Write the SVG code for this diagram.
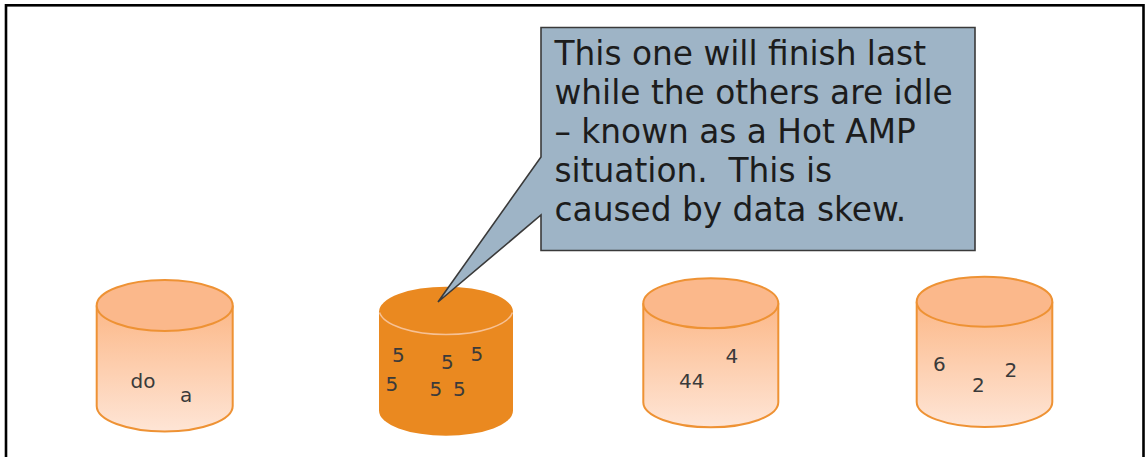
<svg xmlns="http://www.w3.org/2000/svg" width="1147" height="457" viewBox="0 0 1147 457">
<defs>
<linearGradient id="lg" x1="0" y1="0" x2="0" y2="1">
<stop offset="0" stop-color="#FCB888"/>
<stop offset="1" stop-color="#FEE5D6"/>
</linearGradient>
<style>
.cyl{fill:url(#lg);stroke:#EE9234;stroke-width:2}
.top{fill:#FBB88B;stroke:#EE9234;stroke-width:2}
.hot{fill:#EA8920;stroke:none}
.rim{fill:none;stroke:#F6C195;stroke-width:1.5}
.d{font-family:"DejaVu Sans",Verdana,sans-serif;font-size:20px;fill:#3a3a3a}
.c{font-family:"DejaVu Sans",Verdana,sans-serif;font-size:32.8px;fill:#1c1c1c}
</style>
</defs>
<rect x="0" y="0" width="1147" height="457" fill="#ffffff"/>
<rect x="6" y="5.3" width="1137.5" height="470" fill="none" stroke="#000" stroke-width="2.6"/>

<g id="amp1">
<path class="cyl" d="M96.7,305.5 V406 A68,25.5 0 0 0 232.7,406 V305.5"/>
<ellipse class="top" cx="164.7" cy="305.5" rx="68" ry="25.5"/>
<text class="d" x="130.5" y="388">do</text>
<text class="d" x="180" y="402">a</text>
</g>

<g id="amp2">
<path class="hot" d="M379,311.7 A67,25 0 0 1 513,311.7 V410.7 A67,25 0 0 1 379,410.7 Z"/>
<path class="rim" d="M379.5,312.5 A67,25 0 0 0 512.5,312.5"/>
<text class="d" x="392" y="362">5</text>
<text class="d" x="441" y="369">5</text>
<text class="d" x="470.5" y="361">5</text>
<text class="d" x="385.5" y="391">5</text>
<text class="d" x="429.5" y="396">5</text>
<text class="d" x="453" y="396">5</text>
</g>

<g id="amp3">
<path class="cyl" d="M643.3,303.3 V402.3 A67.5,25 0 0 0 778.3,402.3 V303.3"/>
<ellipse class="top" cx="710.8" cy="303.3" rx="67.5" ry="25"/>
<text class="d" x="725.5" y="363">4</text>
<text class="d" x="679" y="388">44</text>
</g>

<g id="amp4">
<path class="cyl" d="M916.7,301.7 V402 A67.8,25 0 0 0 1052.3,402 V301.7"/>
<ellipse class="top" cx="984.5" cy="301.7" rx="67.8" ry="25"/>
<text class="d" x="933" y="371">6</text>
<text class="d" x="972" y="392">2</text>
<text class="d" x="1004.5" y="377">2</text>
</g>

<g id="callout">
<path d="M541,27.5 H975 V250.5 H541 V215 L438,302 L541,157 Z" fill="#9EB4C6" stroke="#3a3a3a" stroke-width="1.6" stroke-linejoin="miter"/>
<text class="c" x="554.5" y="64.5">This one will finish last</text>
<text class="c" x="554.5" y="103.5">while the others are idle</text>
<text class="c" x="554.5" y="142.5">– known as a Hot AMP</text>
<text class="c" x="554.5" y="181.5" xml:space="preserve">situation.  This is</text>
<text class="c" x="554.5" y="220.5">caused by data skew.</text>
</g>
<g id="connectors"/>
</svg>
